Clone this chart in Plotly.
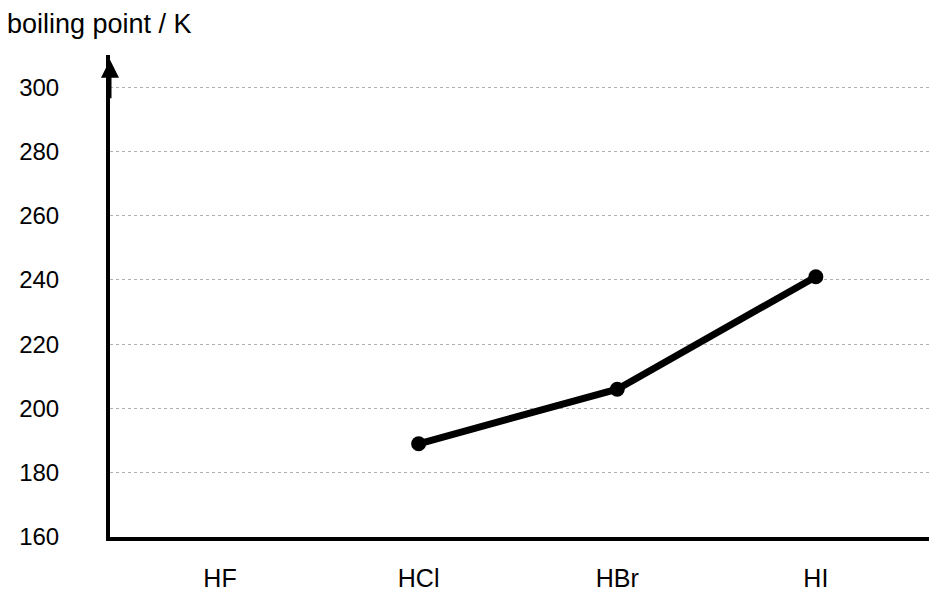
import plotly.graph_objects as go

# Boiling points of the hydrogen halides (HF not plotted in the original)
compounds = ['HF', 'HCl', 'HBr', 'HI']
plotted = ['HCl', 'HBr', 'HI']
boiling_k = [189, 206, 241]
y_ticks = [160, 180, 200, 220, 240, 260, 280, 300]

font = "Liberation Sans, Arial, sans-serif"

fig = go.Figure()
fig.add_trace(
    go.Scatter(x=plotted, y=boiling_k,
               mode='lines+markers',
               line=dict(color='black', width=7),
               marker=dict(color='black', size=15),
               showlegend=False))

# the page body has an 8px margin, so the figure is sized to fit inside it
fig.update_layout(
    width=929, height=586,
    margin=dict(l=102, r=0, t=47, b=57),
    plot_bgcolor='white', paper_bgcolor='white',
    font=dict(family=font, size=24, color='black'),
)
fig.update_xaxes(
    type='category', categoryorder='array', categoryarray=compounds,
    range=[-0.554, 3.61],
    showline=True, linecolor='black', linewidth=4,
    showgrid=False, zeroline=False,
    ticks='', ticklabelstandoff=16, tickfont=dict(size=25),
)
fig.update_yaxes(
    range=[160, 310], tickvals=y_ticks,
    showline=True, linecolor='black', linewidth=4,
    showgrid=True, gridcolor='#b0b0b0', gridwidth=1, griddash='dot',
    zeroline=False, ticks='', ticklabelstandoff=42,
)
# arrow head at the top of the y axis
fig.add_annotation(xref='paper', yref='paper', x=0, y=0.99,
                   ax=0, ay=40, showarrow=True,
                   arrowhead=2, arrowsize=1.2, arrowwidth=3, arrowcolor='black',
                   text='')
# axis title, top left
fig.add_annotation(xref='paper', yref='paper', x=-0.127, y=1.064,
                   xanchor='left', yanchor='middle', showarrow=False,
                   text='boiling point / K', font=dict(size=27))

fig.write_html("out.html")
